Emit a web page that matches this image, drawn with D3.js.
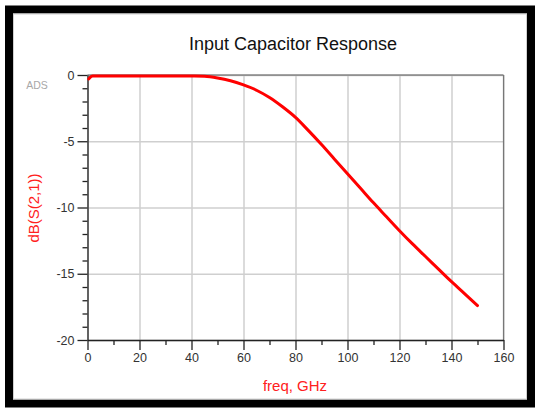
<!DOCTYPE html>
<html>
<head>
<meta charset="utf-8">
<script src="https://cdn.jsdelivr.net/npm/d3@7"></script>
<style>
	body { margin: 0; background: #fff; }
	svg { display: block; }
	text { font-family: "Liberation Sans", Arial, sans-serif; }
</style>
</head>
<body>
<div id="my_dataviz"></div>
<script>
// S21 of input capacitor
const freq = [0.5, 1, 2, 5, 10, 15, 20, 25, 30, 35, 40, 45, 50, 55, 60, 65, 70, 75, 80, 85, 90, 95, 100, 105, 110, 115, 120, 125, 130, 135, 140, 145, 150];
const dbS21 = [-0.3, -0.18, -0.08, -0.07, -0.07, -0.07, -0.07, -0.07, -0.07, -0.07, -0.08, -0.1, -0.22, -0.43, -0.75, -1.15, -1.7, -2.4, -3.2, -4.2, -5.25, -6.35, -7.45, -8.55, -9.65, -10.7, -11.75, -12.75, -13.7, -14.65, -15.6, -16.5, -17.4];
const xMajor = [0, 20, 40, 60, 80, 100, 120, 140, 160];
const xMinor = [10, 30, 50, 70, 90, 110, 130, 150];
const yMajor = [0, -5, -10, -15, -20];
const yMinor = [-1, -2, -3, -4, -6, -7, -8, -9, -11, -12, -13, -14, -16, -17, -18, -19];

var W = 537, H = 408;
var margin = { top: 75, right: 33.5, bottom: 68, left: 87.5 },
	width = W - margin.left - margin.right,
	height = H - margin.top - margin.bottom;

var svg = d3
	.select("#my_dataviz")
	.append("svg")
	.attr("width", W)
	.attr("height", H);

// black frame round the whole picture
svg.append("rect")
	.attr("x", 9).attr("y", 9.5)
	.attr("width", 522).attr("height", 394)
	.attr("fill", "#fff")
	.attr("stroke", "#000")
	.attr("stroke-width", 8);
svg.append("rect")
	.attr("x", 13.5).attr("y", 14)
	.attr("width", 513).attr("height", 385)
	.attr("fill", "none")
	.attr("stroke", "#d0d0d0")
	.attr("stroke-width", 1);

var g = svg.append("g")
	.attr("transform", "translate(" + margin.left + "," + margin.top + ")");

var x = d3.scaleLinear().domain([0, 160]).range([0, width]);
var y = d3.scaleLinear().domain([-20, 0]).range([height, 0]);

// grid
g.append("g")
	.attr("class", "grid")
	.attr("transform", "translate(0," + height + ")")
	.call(d3.axisBottom(x).tickValues(xMajor).tickSize(-height).tickFormat(""))
	.call(function (s) { s.select(".domain").remove(); })
	.selectAll("line").attr("stroke", "#cfcfcf").attr("stroke-width", 1.5);
g.append("g")
	.attr("class", "grid")
	.call(d3.axisLeft(y).tickValues(yMajor).tickSize(-width).tickFormat(""))
	.call(function (s) { s.select(".domain").remove(); })
	.selectAll("line").attr("stroke", "#cfcfcf").attr("stroke-width", 1.5);

// top and right frame of plot
g.append("line").attr("x1", 0).attr("x2", width).attr("y1", 0).attr("y2", 0)
	.attr("stroke", "#555").attr("stroke-width", 1.2);
g.append("line").attr("x1", width).attr("x2", width).attr("y1", 0).attr("y2", height)
	.attr("stroke", "#777").attr("stroke-width", 1.2);

// minor ticks
g.append("g")
	.attr("transform", "translate(0," + height + ")")
	.call(d3.axisBottom(x).tickValues(xMinor).tickSize(5).tickFormat(""))
	.call(function (s) { s.select(".domain").remove(); })
	.selectAll("line").attr("stroke", "#222").attr("stroke-width", 1.3);
g.append("g")
	.call(d3.axisLeft(y).tickValues(yMinor).tickSize(5).tickFormat(""))
	.call(function (s) { s.select(".domain").remove(); })
	.selectAll("line").attr("stroke", "#222").attr("stroke-width", 1.3);

// major axes, plain hyphen for the minus like ADS does
var plain = function (d) { return String(d); };
var xAxis = g.append("g")
	.attr("transform", "translate(0," + height + ")")
	.call(d3.axisBottom(x).tickValues(xMajor).tickSize(10).tickSizeOuter(0).tickPadding(3).tickFormat(plain));
var yAxis = g.append("g")
	.call(d3.axisLeft(y).tickValues(yMajor).tickSize(10).tickSizeOuter(0).tickPadding(3).tickFormat(plain));

[xAxis, yAxis].forEach(function (a) {
	a.select(".domain").attr("stroke", "#222").attr("stroke-width", 1.3);
	a.selectAll("line").attr("stroke", "#222").attr("stroke-width", 1.3);
	a.selectAll("text")
		.attr("fill", "#333")
		.style("font-size", "12.5px")
		.style("font-family", "'Liberation Sans', Arial, sans-serif");
});

// the curve
var line = d3.line()
	.x(function (d, i) { return x(freq[i]); })
	.y(function (d) { return y(d); })
	.curve(d3.curveMonotoneX);

g.append("path")
	.datum(dbS21)
	.attr("fill", "none")
	.attr("stroke", "#ff0000")
	.attr("stroke-width", 3)
	.attr("stroke-linecap", "round")
	.attr("stroke-linejoin", "round")
	.attr("d", line);

// texts
svg.append("text")
	.attr("x", 293)
	.attr("y", 50)
	.attr("text-anchor", "middle")
	.attr("fill", "#111")
	.style("font-size", "18px")
	.text("Input Capacitor Response");

svg.append("text")
	.attr("x", 37)
	.attr("y", 89)
	.attr("text-anchor", "middle")
	.attr("fill", "#a8a8a8")
	.style("font-size", "10.5px")
	.text("ADS");

svg.append("text")
	.attr("x", 295)
	.attr("y", 391)
	.attr("text-anchor", "middle")
	.attr("fill", "#ff2020")
	.style("font-size", "15px")
	.text("freq, GHz");

svg.append("text")
	.attr("transform", "translate(39,208) rotate(-90)")
	.attr("text-anchor", "middle")
	.attr("fill", "#ff2020")
	.style("font-size", "15px")
	.text("dB(S(2,1))");
</script>
</body>
</html>
